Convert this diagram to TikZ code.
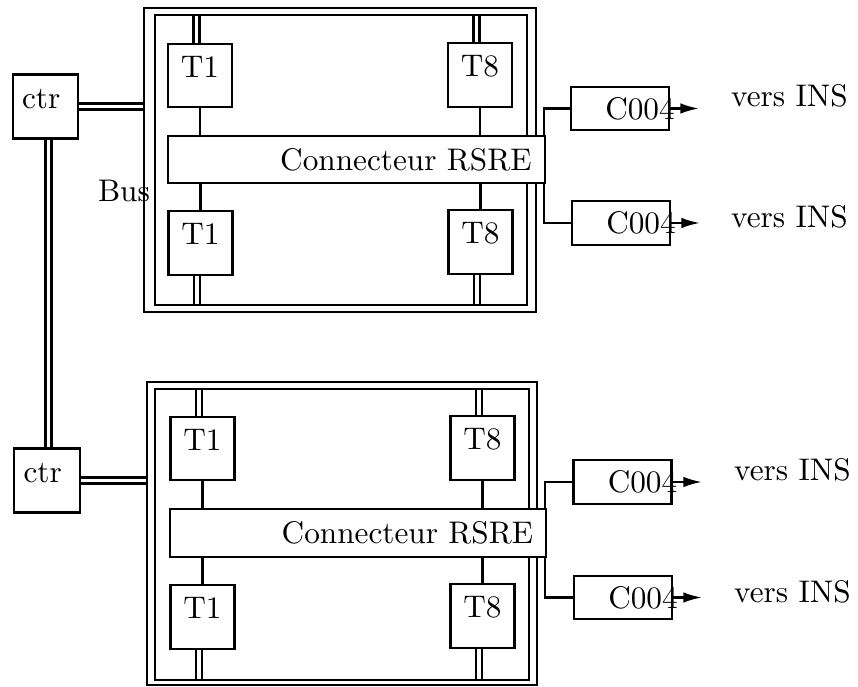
\documentclass[tikz,border=0pt]{standalone}
\usepackage{tikz}
\usetikzlibrary{arrows.meta,backgrounds}

\begin{document}
\begin{tikzpicture}[
  x=0.32pt,y=-0.32pt,line width=0.75pt,
  ctrbox/.style={draw,minimum width=21pt,minimum height=20.5pt,inner sep=0pt,text depth=5pt,text width=15pt,align=left},
  board/.style={draw},
  tbox/.style={draw,minimum width=20.5pt,minimum height=20.3pt,inner sep=0pt,text depth=5.8pt},
  rsre/.style={draw,fill=white,minimum height=15.2pt,inner xsep=4.2pt,text width=112.1pt,align=right},
  cbox/.style={draw,minimum height=13.2pt,inner xsep=0pt},
  dest/.style={anchor=west,inner sep=0pt},
  bus/.style={double,line width=0.8pt,double distance=1.1pt},
  arrow/.style={-{Latex[length=6pt,width=3.4pt]}}
]
  \useasboundingbox (0,0) rectangle (858,687);

  % upper rack
  \node[ctrbox] (ctr1) at (45.5,106.5) {ctr};
  \node[board,minimum width=125.4pt,minimum height=97.3pt] (board1) at (340,160) {};
  \node[board,minimum width=119pt,minimum height=92.8pt] (inner1) at (341,160) {};
  \node[tbox] (t1up1) at (200,75.5) {T1};
  \node[tbox] (t8up1) at (480,75) {T8};
  \node[tbox] (t1lo1) at (200.5,243) {T1};
  \node[tbox] (t8lo1) at (480.5,242) {T8};
  \node[rsre] (rsre1) at (356.5,159.5) {Connecteur RSRE};
  \node[anchor=east,inner sep=0pt] (bus1) at (151,191) {Bus};
  \node[cbox] (cpl1a) at (620,108.5) {\makebox[31.4pt][r]{C004\kern-1.8pt}};
  \node[cbox] (cpl1b) at (621,223) {\makebox[31.4pt][r]{C004\kern-1.8pt}};
  \node[dest] (ins1a) at (730,96) {vers INS};
  \node[dest] (ins1b) at (730,217) {vers INS};
  \coordinate (out1a) at (699,108.5);
  \coordinate (out1b) at (700,223);

  % lower rack
  \node[ctrbox] (ctr2) at (47,480.5) {ctr};
  \node[board,minimum width=124.8pt,minimum height=97pt] (board2) at (342,533.5) {};
  \node[board,minimum width=119.7pt,minimum height=93.1pt] (inner2) at (342,534.5) {};
  \node[tbox] (t1up2) at (202.5,448.5) {T1};
  \node[tbox] (t8up2) at (482.5,448) {T8};
  \node[tbox] (t1lo2) at (202.5,617) {T1};
  \node[tbox] (t8lo2) at (482.5,616) {T8};
  \node[rsre] (rsre2) at (358,533) {Connecteur RSRE};
  \node[cbox] (cpl2a) at (622.5,482) {\makebox[31.4pt][r]{C004\kern-1.8pt}};
  \node[cbox] (cpl2b) at (623,597.5) {\makebox[31.4pt][r]{C004\kern-1.8pt}};
  \node[dest] (ins2a) at (733,470) {vers INS};
  \node[dest] (ins2b) at (733,592) {vers INS};
  \coordinate (out2a) at (702,482);
  \coordinate (out2b) at (702,597.5);

  % links to the connector
  \draw (t1up1) -- (t1up1 |- rsre1.north);
  \draw (t8up1) -- (t8up1 |- rsre1.north);
  \draw (t1lo1) -- (t1lo1 |- rsre1.south);
  \draw (t8lo1) -- (t8lo1 |- rsre1.south);
  \draw (t1up2) -- (t1up2 |- rsre2.north);
  \draw (t8up2) -- (t8up2 |- rsre2.north);
  \draw (t1lo2) -- (t1lo2 |- rsre2.south);
  \draw (t8lo2) -- (t8lo2 |- rsre2.south);

  \draw ([xshift=-0.7pt]rsre1.north east) |- (cpl1a);
  \draw ([xshift=-0.7pt]rsre1.south east) |- (cpl1b);
  \draw ([xshift=-0.7pt]rsre2.north east) |- (cpl2a);
  \draw ([xshift=-0.7pt]rsre2.south east) |- (cpl2b);
  \draw[arrow] (cpl1a.east) -- (out1a);
  \draw[arrow] (cpl1b.east) -- (out1b);
  \draw[arrow] (cpl2a.east) -- (out2a);
  \draw[arrow] (cpl2b.east) -- (out2b);

  \begin{scope}[on background layer]
    \draw[bus] (ctr1.east) -- (ctr1.east -| board1.west);
    \draw[bus] (ctr2.east) -- (ctr2.east -| board2.west);
    \draw[bus] ([xshift=1pt]ctr1.south) -- ([xshift=1pt]ctr1.south |- ctr2.north);
    \draw[bus] ([xshift=-1.1pt]t1up1.north) -- ([xshift=-1.1pt]t1up1.north |- inner1.north);
    \draw[bus] ([xshift=-1.1pt]t8up1.north) -- ([xshift=-1.1pt]t8up1.north |- inner1.north);
    \draw[bus] ([xshift=-1.1pt]t1lo1.south) -- ([xshift=-1.1pt]t1lo1.south |- inner1.south);
    \draw[bus] ([xshift=-1.1pt]t8lo1.south) -- ([xshift=-1.1pt]t8lo1.south |- inner1.south);
    \draw[bus] ([xshift=-1.1pt]t1up2.north) -- ([xshift=-1.1pt]t1up2.north |- inner2.north);
    \draw[bus] ([xshift=-1.1pt]t8up2.north) -- ([xshift=-1.1pt]t8up2.north |- inner2.north);
    \draw[bus] ([xshift=-1.1pt]t1lo2.south) -- ([xshift=-1.1pt]t1lo2.south |- inner2.south);
    \draw[bus] ([xshift=-1.1pt]t8lo2.south) -- ([xshift=-1.1pt]t8lo2.south |- inner2.south);
  \end{scope}
\end{tikzpicture}
\end{document}
